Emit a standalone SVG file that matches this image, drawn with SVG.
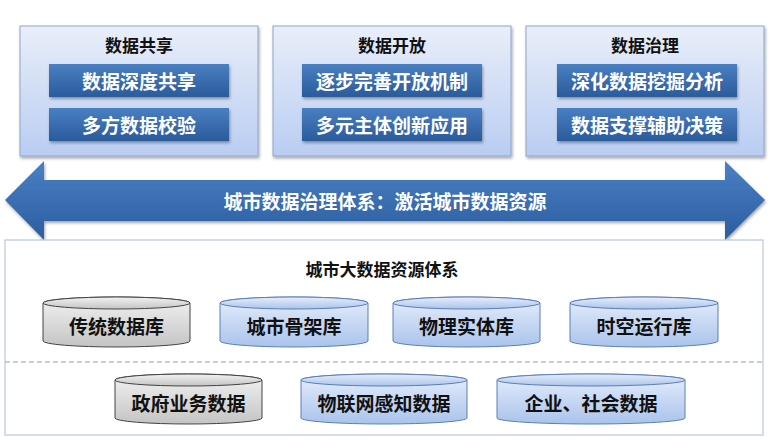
<svg xmlns="http://www.w3.org/2000/svg" width="769" height="437" viewBox="0 0 769 437">
<defs>
<linearGradient id="gBox" x1="0" y1="0" x2="0" y2="1"><stop offset="0" stop-color="#e9eef9"/><stop offset="1" stop-color="#b9cdf2"/></linearGradient>
<linearGradient id="gBar" x1="0" y1="0" x2="0" y2="1"><stop offset="0" stop-color="#4a7fc1"/><stop offset="1" stop-color="#2a5b9c"/></linearGradient>
<linearGradient id="gArr" x1="0" y1="0" x2="0" y2="1"><stop offset="0" stop-color="#4a80c4"/><stop offset="1" stop-color="#2b5d9f"/></linearGradient>
<linearGradient id="gGray" x1="0" y1="0" x2="0" y2="1"><stop offset="0" stop-color="#f2f2f2"/><stop offset="1" stop-color="#c4c4c4"/></linearGradient>
<linearGradient id="gBlue" x1="0" y1="0" x2="0" y2="1"><stop offset="0" stop-color="#e6eefb"/><stop offset="1" stop-color="#aac3ec"/></linearGradient>
<filter id="sh" x="-10%" y="-10%" width="120%" height="130%"><feDropShadow dx="1" dy="2" stdDeviation="1.5" flood-opacity="0.35"/></filter>
</defs>
<style>
text{font-family:"Noto Sans CJK SC","Noto Sans",sans-serif;font-weight:bold;text-anchor:middle;dominant-baseline:central}
.box{fill:url(#gBox);stroke:#8fa6c8;stroke-width:1;filter:url(#sh)}
.bar{fill:url(#gBar);filter:url(#sh)}
.bt{fill:#fff;font-size:19px}
.h{fill:#111;font-size:17px}
.cg{fill:url(#gGray);stroke:#444;stroke-width:1}
.cb{fill:url(#gBlue);stroke:#5a7fb5;stroke-width:1}
.ct{fill:#111;font-size:19px}
</style>
<g id="box1"><rect class="box" x="20" y="26" width="238" height="130"/><text class="h" x="139" y="44">数据共享</text>
<rect class="bar" x="49" y="64" width="180" height="33"/><text class="bt" x="139" y="80">数据深度共享</text>
<rect class="bar" x="49" y="108" width="180" height="33"/><text class="bt" x="139" y="124">多方数据校验</text></g>
<g id="box2"><rect class="box" x="273" y="26" width="238" height="130"/><text class="h" x="392" y="44">数据开放</text>
<rect class="bar" x="302" y="64" width="180" height="33"/><text class="bt" x="392" y="80">逐步完善开放机制</text>
<rect class="bar" x="302" y="108" width="180" height="33"/><text class="bt" x="392" y="124">多元主体创新应用</text></g>
<g id="box3"><rect class="box" x="526" y="26" width="238" height="130"/><text class="h" x="645" y="44">数据治理</text>
<rect class="bar" x="557" y="64" width="180" height="33"/><text class="bt" x="647" y="80">深化数据挖掘分析</text>
<rect class="bar" x="557" y="108" width="180" height="33"/><text class="bt" x="647" y="124">数据支撑辅助决策</text></g>
<g id="arrow"><path d="M5,200 L44,161 L44,180 L725,180 L725,161 L765,200 L725,240 L725,221 L44,221 L44,240 Z" fill="url(#gArr)" filter="url(#sh)"/>
<text x="385" y="200" fill="#fff" font-size="19">城市数据治理体系：激活城市数据资源</text></g>
<g id="panel"><rect x="5" y="240" width="758" height="195" fill="#fff" stroke="#a9bcd8"/>
<text class="h" x="382" y="268">城市大数据资源体系</text>
<line x1="5" y1="362" x2="763" y2="362" stroke="#8fa0b8" stroke-dasharray="5,3"/></g>
<g id="connectors"/>
<g id="cyl1"><path class="cg" d="M43,303 V341 A73.5,6 0 0 0 190,341 V303 A73.5,6 0 0 0 43,303 Z"/><ellipse class="cg" cx="116.5" cy="303" rx="73.5" ry="6"/><text class="ct" x="116.5" y="325">传统数据库</text></g>
<g id="cyl2"><path class="cb" d="M220,303 V341 A74,6 0 0 0 368,341 V303 A74,6 0 0 0 220,303 Z"/><ellipse class="cb" cx="294" cy="303" rx="74" ry="6"/><text class="ct" x="294" y="325">城市骨架库</text></g>
<g id="cyl3"><path class="cb" d="M393,303 V341 A73.5,6 0 0 0 540,341 V303 A73.5,6 0 0 0 393,303 Z"/><ellipse class="cb" cx="466.5" cy="303" rx="73.5" ry="6"/><text class="ct" x="466.5" y="325">物理实体库</text></g>
<g id="cyl4"><path class="cb" d="M570,303 V341 A74,6 0 0 0 718,341 V303 A74,6 0 0 0 570,303 Z"/><ellipse class="cb" cx="644" cy="303" rx="74" ry="6"/><text class="ct" x="644" y="325">时空运行库</text></g>
<g id="cyl5"><path class="cg" d="M115,380 V418 A73.5,6 0 0 0 262,418 V380 A73.5,6 0 0 0 115,380 Z"/><ellipse class="cg" cx="188.5" cy="380" rx="73.5" ry="6"/><text class="ct" x="188.5" y="402">政府业务数据</text></g>
<g id="cyl6"><path class="cb" d="M301,380 V418 A83,6 0 0 0 467,418 V380 A83,6 0 0 0 301,380 Z"/><ellipse class="cb" cx="384" cy="380" rx="83" ry="6"/><text class="ct" x="384" y="402">物联网感知数据</text></g>
<g id="cyl7"><path class="cb" d="M497,380 V418 A94,6 0 0 0 685,418 V380 A94,6 0 0 0 497,380 Z"/><ellipse class="cb" cx="591" cy="380" rx="94" ry="6"/><text class="ct" x="591" y="402">企业、社会数据</text></g>
</svg>
